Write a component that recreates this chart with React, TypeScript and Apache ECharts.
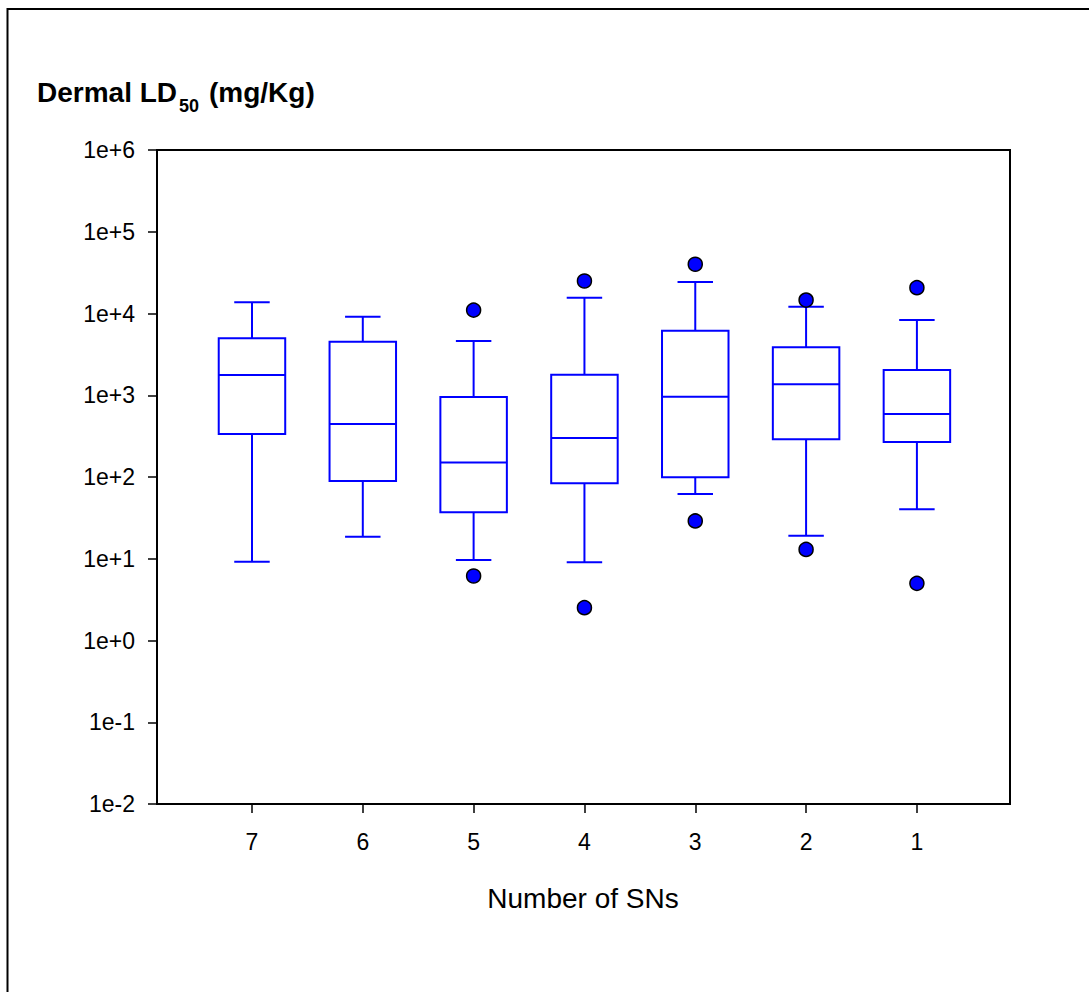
import React, { useEffect, useRef } from "react";
import * as echarts from "echarts";

// ---- data ----
const categories = ["7", "6", "5", "4", "3", "2", "1"];
const whiskerLow = [9.2, 18.6, 9.65, 9.04, 62, 19.1, 40.3];
const quartile1 = [336, 89.3, 37, 83.7, 99.2, 289, 268];
const medians = [1770, 445, 150, 300, 960, 1360, 590];
const quartile3 = [4980, 4520, 952, 1785, 6160, 3860, 2036];
const whiskerHigh = [13700, 9140, 4610, 15600, 24300, 12100, 8320];
const outlierCategory = ["5", "5", "4", "4", "3", "3", "2", "2", "1", "1"];
const outlierValue = [11000, 6.15, 25000, 2.52, 40000, 29, 14600, 13.0, 20700, 5.0];

const FONT = "'Liberation Sans', Arial, Helvetica, sans-serif";
const BLUE = "#0000ff";
const BOX_W = 0.6;
const CAP_W = 0.32;

function fmtExp(v: number) {
  const e = Math.round(Math.log10(v));
  return "1e" + (e >= 0 ? "+" : "") + e;
}

export default function App() {
  const ref = useRef<HTMLDivElement>(null);
  useEffect(() => {
    if (!ref.current) return;
    const chart = echarts.init(ref.current, undefined, { renderer: "svg" });
    const boxData = categories.map((c, i) => [
      i + 1,
      whiskerLow[i],
      quartile1[i],
      medians[i],
      quartile3[i],
      whiskerHigh[i],
    ]);
    const outData = outlierCategory.map((c, i) => [categories.indexOf(c) + 1, outlierValue[i]]);
    const line = (x1: number, y1: number, x2: number, y2: number) => ({
      type: "line",
      shape: { x1, y1, x2, y2 },
      style: { stroke: BLUE, lineWidth: 2 },
    });
    const option: any = {
      animation: false,
      backgroundColor: "#fff",
      grid: {
        left: 157,
        top: 150,
        width: 853,
        height: 654,
        show: true,
        borderColor: "#000",
        borderWidth: 2,
        backgroundColor: "transparent",
      },
      xAxis: {
        type: "value",
        min: 0.143,
        max: 7.84,
        splitLine: { show: false },
        axisLine: { show: true, lineStyle: { color: "#000", width: 2 } },
        axisTick: {
          show: true,
          inside: false,
          length: 9,
          lineStyle: { color: "#000", width: 1.5 },
          customValues: [1, 2, 3, 4, 5, 6, 7],
        },
        axisLabel: {
          customValues: [1, 2, 3, 4, 5, 6, 7],
          formatter: (v: number) => categories[Math.round(v) - 1] ?? "",
          margin: 26,
          fontSize: 23,
          color: "#000",
          fontFamily: FONT,
        },
      },
      yAxis: {
        type: "log",
        logBase: 10,
        min: 0.01,
        max: 1000000,
        splitNumber: 8,
        splitLine: { show: false },
        minorTick: { show: false },
        axisLine: { show: true, lineStyle: { color: "#000", width: 2 } },
        axisTick: { show: true, inside: false, length: 9, lineStyle: { color: "#000", width: 1.5 } },
        axisLabel: {
          formatter: (v: number) => fmtExp(v),
          margin: 22,
          fontSize: 23,
          color: "#000",
          fontFamily: FONT,
          showMinLabel: true,
          showMaxLabel: true,
        },
      },
      graphic: [
        {
          type: "rect",
          shape: { x: 7.5, y: 9, width: 1200, height: 1100 },
          style: { fill: "none", stroke: "#000", lineWidth: 2 },
          silent: true,
        },
        {
          type: "text",
          x: 37,
          y: 92.5,
          style: { text: "Dermal LD", font: `bold 28px ${FONT}`, fill: "#000", verticalAlign: "middle" },
        },
        {
          type: "text",
          x: 179,
          y: 106,
          style: { text: "50", font: `bold 18px ${FONT}`, fill: "#000", verticalAlign: "middle" },
        },
        {
          type: "text",
          x: 209,
          y: 92.5,
          style: { text: "(mg/Kg)", font: `bold 28px ${FONT}`, fill: "#000", verticalAlign: "middle" },
        },
        {
          type: "text",
          x: 583,
          y: 898,
          style: {
            text: "Number of SNs",
            font: `28px ${FONT}`,
            fill: "#000",
            align: "center",
            verticalAlign: "middle",
          },
        },
      ],
      series: [
        {
          type: "custom",
          data: boxData,
          encode: { x: 0, y: [1, 2, 3, 4, 5] },
          clip: false,
          renderItem: (params: any, api: any) => {
            const x = api.value(0);
            const lo = api.coord([x, api.value(1)]);
            const q1 = api.coord([x, api.value(2)]);
            const md = api.coord([x, api.value(3)]);
            const q3 = api.coord([x, api.value(4)]);
            const hi = api.coord([x, api.value(5)]);
            const bl = api.coord([x - BOX_W / 2, api.value(3)])[0];
            const br = api.coord([x + BOX_W / 2, api.value(3)])[0];
            const cl = api.coord([x - CAP_W / 2, api.value(3)])[0];
            const cr = api.coord([x + CAP_W / 2, api.value(3)])[0];
            const cx = md[0];
            return {
              type: "group",
              children: [
                line(cx, hi[1], cx, q3[1]),
                line(cx, q1[1], cx, lo[1]),
                line(cl, hi[1], cr, hi[1]),
                line(cl, lo[1], cr, lo[1]),
                {
                  type: "rect",
                  shape: { x: bl, y: q3[1], width: br - bl, height: q1[1] - q3[1] },
                  style: { fill: "none", stroke: BLUE, lineWidth: 2 },
                },
                line(bl, md[1], br, md[1]),
              ],
            };
          },
          z: 2,
        },
        {
          type: "scatter",
          data: outData,
          symbol: "circle",
          symbolSize: 14,
          itemStyle: { color: BLUE, borderColor: "#000", borderWidth: 1.5, opacity: 1 },
          z: 3,
        },
      ],
    };
    chart.setOption(option);
    return () => chart.dispose();
  }, []);
  return (
    <div
      ref={ref}
      style={{ position: "absolute", left: 0, top: 0, width: 1089, height: 992, background: "#fff" }}
    />
  );
}
